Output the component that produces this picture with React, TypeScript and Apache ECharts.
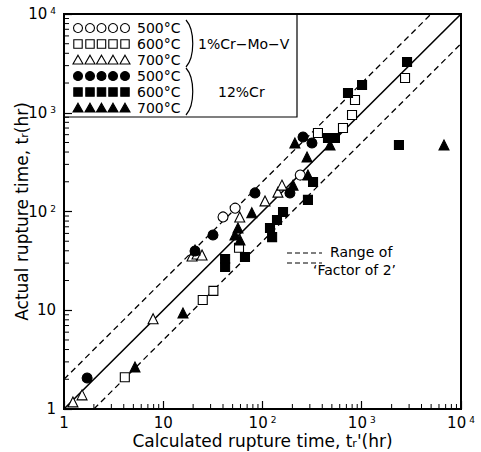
import React, { useEffect, useRef } from "react";
import * as echarts from "echarts";

// ---- data: [calculated t_r' (hr), actual t_r (hr)] ----
const crMoV500: number[][] = [[40, 88], [53, 108], [240, 234]];
const crMoV600: number[][] = [
  [4.1, 2.1], [25, 12.7], [32, 15.7], [58, 43], [362, 624], [647, 701],
  [798, 949], [855, 1346], [2730, 2250],
];
const crMoV700: number[][] = [
  [1.23, 1.18], [1.52, 1.39], [7.9, 8.2], [19.5, 35.4], [21.9, 37.1], [24.6, 36.3],
  [59, 88], [106, 128], [143, 157], [157, 185],
];
const cr12_500: number[][] = [
  [1.71, 2.06], [20.9, 39.8], [31.7, 57.8], [84, 154], [189, 154], [256, 568], [315, 494],
];
const cr12_600: number[][] = [
  [42, 33], [42, 27.4], [66.6, 34.6], [119, 68], [125, 55], [140, 82], [161, 99],
  [287, 131], [323, 199], [457, 555], [537, 555], [727, 1585], [1007, 1910],
  [2860, 3265], [2370, 471],
];
const cr12_700: number[][] = [
  [5.19, 2.66], [15.8, 9.4], [20.9, 40.7], [52.8, 57.8], [56.6, 68], [59.3, 51.5],
  [78, 97], [203, 185], [212, 494], [281, 356], [287, 234], [479, 471], [6740, 471],
];

const unityLine: number[][] = [[1, 1], [10000, 10000]];
const upperLine: number[][] = [[1, 2], [5000, 10000]];
const lowerLine: number[][] = [[2, 1], [10000, 5000]];

const decades = [1, 10, 100, 1000];
const minorMultipliers = [2, 3, 4, 5, 6, 7, 8, 9];
const legendTemps = ["500°C", "600°C", "700°C", "500°C", "600°C", "700°C"];

const FONT = "DejaVu Sans";

export default function App() {
  const ref = useRef<HTMLDivElement>(null);
  useEffect(() => {
    document.body.style.margin = "0";
    const chart = echarts.init(ref.current!, null, { renderer: "svg" });

    const minorVals: number[] = [];
    decades.forEach((d) => minorMultipliers.forEach((m) => minorVals.push(d * m)));
    const minorData: number[][] = [];
    minorVals.forEach((v) => {
      minorData.push([v, 0]);
      minorData.push([v, 1]);
    });

    const supLabel = (v: number) => {
      if (v === 1) return "1";
      if (v === 10) return "10";
      return "10{sup|" + Math.round(Math.log10(v)) + "}";
    };
    const rich = {
      sup: { fontSize: 9, lineHeight: 10, verticalAlign: "top", padding: [0, 0, 0, 3], fontFamily: FONT, color: "#000" },
    };

    const markerStyle = (filled: boolean) => ({
      color: filled ? "#000" : "#fff",
      borderColor: "#000",
      borderWidth: 1.1,
      opacity: 1,
    });

    // legend graphics
    const legendG: any[] = [];
    const rows = [28, 44, 60, 76, 92, 108];
    const mx = [78, 90, 101.5, 113, 125];
    const shapes = ["circle", "rect", "triangle", "circle", "rect", "triangle"];
    rows.forEach((y, i) => {
      const filled = i >= 3;
      const fill = filled ? "#000" : "#fff";
      mx.forEach((x) => {
        const st = { fill, stroke: "#000", lineWidth: 1.1 };
        if (shapes[i] === "circle") legendG.push({ type: "circle", shape: { cx: x, cy: y, r: 4.5 }, style: st });
        else if (shapes[i] === "rect") legendG.push({ type: "rect", shape: { x: x - 4.2, y: y - 4.2, width: 8.4, height: 8.4 }, style: st });
        else legendG.push({ type: "polygon", shape: { points: [[x, y - 4.8], [x + 5, y + 4], [x - 5, y + 4]] }, style: st });
      });
      legendG.push({
        type: "text", x: 137, y, style: { text: legendTemps[i], font: `14px "${FONT}"`, fill: "#000", verticalAlign: "middle", textAlign: "left" },
      });
    });
    legendG.push({ type: "bezierCurve", shape: { x1: 186, y1: 20, x2: 186, y2: 67, cpx1: 195, cpy1: 30, cpx2: 195, cpy2: 57 }, style: { stroke: "#000", lineWidth: 1.2, fill: "none" } });
    legendG.push({ type: "bezierCurve", shape: { x1: 186, y1: 68, x2: 186, y2: 115, cpx1: 195, cpy1: 78, cpx2: 195, cpy2: 105 }, style: { stroke: "#000", lineWidth: 1.2, fill: "none" } });
    legendG.push({ type: "text", x: 198, y: 44, style: { text: "1%Cr−Mo−V", font: `14px "${FONT}"`, fill: "#000", verticalAlign: "middle" } });
    legendG.push({ type: "text", x: 218, y: 92, style: { text: "12%Cr", font: `14px "${FONT}"`, fill: "#000", verticalAlign: "middle" } });
    legendG.push({ type: "polyline", shape: { points: [[64, 117], [297, 117], [297, 14]] }, style: { stroke: "#000", lineWidth: 1.2, fill: "none" } });
    // range legend
    legendG.push({ type: "line", shape: { x1: 287, y1: 253, x2: 322, y2: 253 }, style: { stroke: "#000", lineWidth: 1.2, lineDash: [5, 3] } });
    legendG.push({ type: "line", shape: { x1: 287, y1: 263, x2: 322, y2: 263 }, style: { stroke: "#000", lineWidth: 1.2, lineDash: [5, 3] } });
    legendG.push({ type: "text", x: 330, y: 252, style: { text: "Range of", font: `14px "${FONT}"`, fill: "#000", verticalAlign: "middle" } });
    legendG.push({ type: "text", x: 313, y: 270, style: { text: "‘Factor of 2’", font: `14px "${FONT}"`, fill: "#000", verticalAlign: "middle" } });

    const scatter = (data: number[][], symbol: string, filled: boolean, size: number) => ({
      type: "scatter",
      data,
      symbol,
      symbolSize: size,
      itemStyle: markerStyle(filled),
      z: 5,
    });

    const nameRich = { sub: { fontSize: 11, verticalAlign: "bottom", lineHeight: 8, fontFamily: FONT, color: "#000" } };

    chart.setOption({
      animation: false,
      backgroundColor: "#fff",
      grid: {
        left: 64, top: 14, width: 397, height: 395, show: true, borderColor: "#000", borderWidth: 2,
        backgroundColor: "transparent", containLabel: false, outerBoundsMode: "none",
      },
      xAxis: {
        type: "log",
        logBase: 10,
        min: 1,
        max: 10000,
        splitLine: { show: false },
        axisLine: { show: true, lineStyle: { color: "#000", width: 2 } },
        axisTick: { show: true, inside: true, length: 8, lineStyle: { color: "#000", width: 1.2 } },
        axisLabel: { formatter: supLabel, rich, fontSize: 15, fontFamily: FONT, color: "#000", margin: 6 },
        name: "Calculated rupture time, t{sub|r}'(hr)",
        nameLocation: "middle",
        nameGap: 23,
        nameMoveOverlap: false,
        nameTextStyle: { fontSize: 17, fontFamily: FONT, color: "#000", rich: nameRich },
      },
      yAxis: {
        type: "log",
        logBase: 10,
        min: 1,
        max: 10000,
        splitLine: { show: false },
        axisLine: { show: true, lineStyle: { color: "#000", width: 2 } },
        axisTick: { show: true, inside: true, length: 8, lineStyle: { color: "#000", width: 1.2 } },
        axisLabel: { formatter: supLabel, rich, fontSize: 15, fontFamily: FONT, color: "#000", margin: 8 },
        name: "Actual rupture time, t{sub|r}(hr)",
        nameLocation: "middle",
        nameGap: 34,
        nameMoveOverlap: false,
        nameTextStyle: { fontSize: 17, fontFamily: FONT, color: "#000", rich: nameRich },
      },
      graphic: legendG,
      series: [
        { type: "line", data: unityLine, symbol: "none", lineStyle: { color: "#000", width: 1.6 }, z: 3 },
        { type: "line", data: upperLine, symbol: "none", lineStyle: { color: "#000", width: 1.3, type: [6, 4] }, z: 3 },
        { type: "line", data: lowerLine, symbol: "none", lineStyle: { color: "#000", width: 1.3, type: [6, 4] }, z: 3 },
        {
          type: "custom",
          data: minorData,
          clip: false,
          z: 4,
          renderItem: (params: any, api: any) => {
            const v = api.value(0);
            const which = api.value(1);
            if (which === 0) {
              const p = api.coord([v, 1]);
              return { type: "line", shape: { x1: p[0], y1: p[1], x2: p[0], y2: p[1] - 5 }, style: { stroke: "#000", lineWidth: 1 } };
            }
            const p = api.coord([1, v]);
            return { type: "line", shape: { x1: p[0], y1: p[1], x2: p[0] + 5, y2: p[1] }, style: { stroke: "#000", lineWidth: 1 } };
          },
        },
        scatter(crMoV500, "circle", false, 10),
        scatter(crMoV600, "rect", false, 9),
        scatter(crMoV700, "triangle", false, 10),
        scatter(cr12_500, "circle", true, 10),
        scatter(cr12_600, "rect", true, 9),
        scatter(cr12_700, "triangle", true, 10),
      ],
    });
    return () => chart.dispose();
  }, []);
  return <div ref={ref} style={{ width: 481, height: 452 }} />;
}
